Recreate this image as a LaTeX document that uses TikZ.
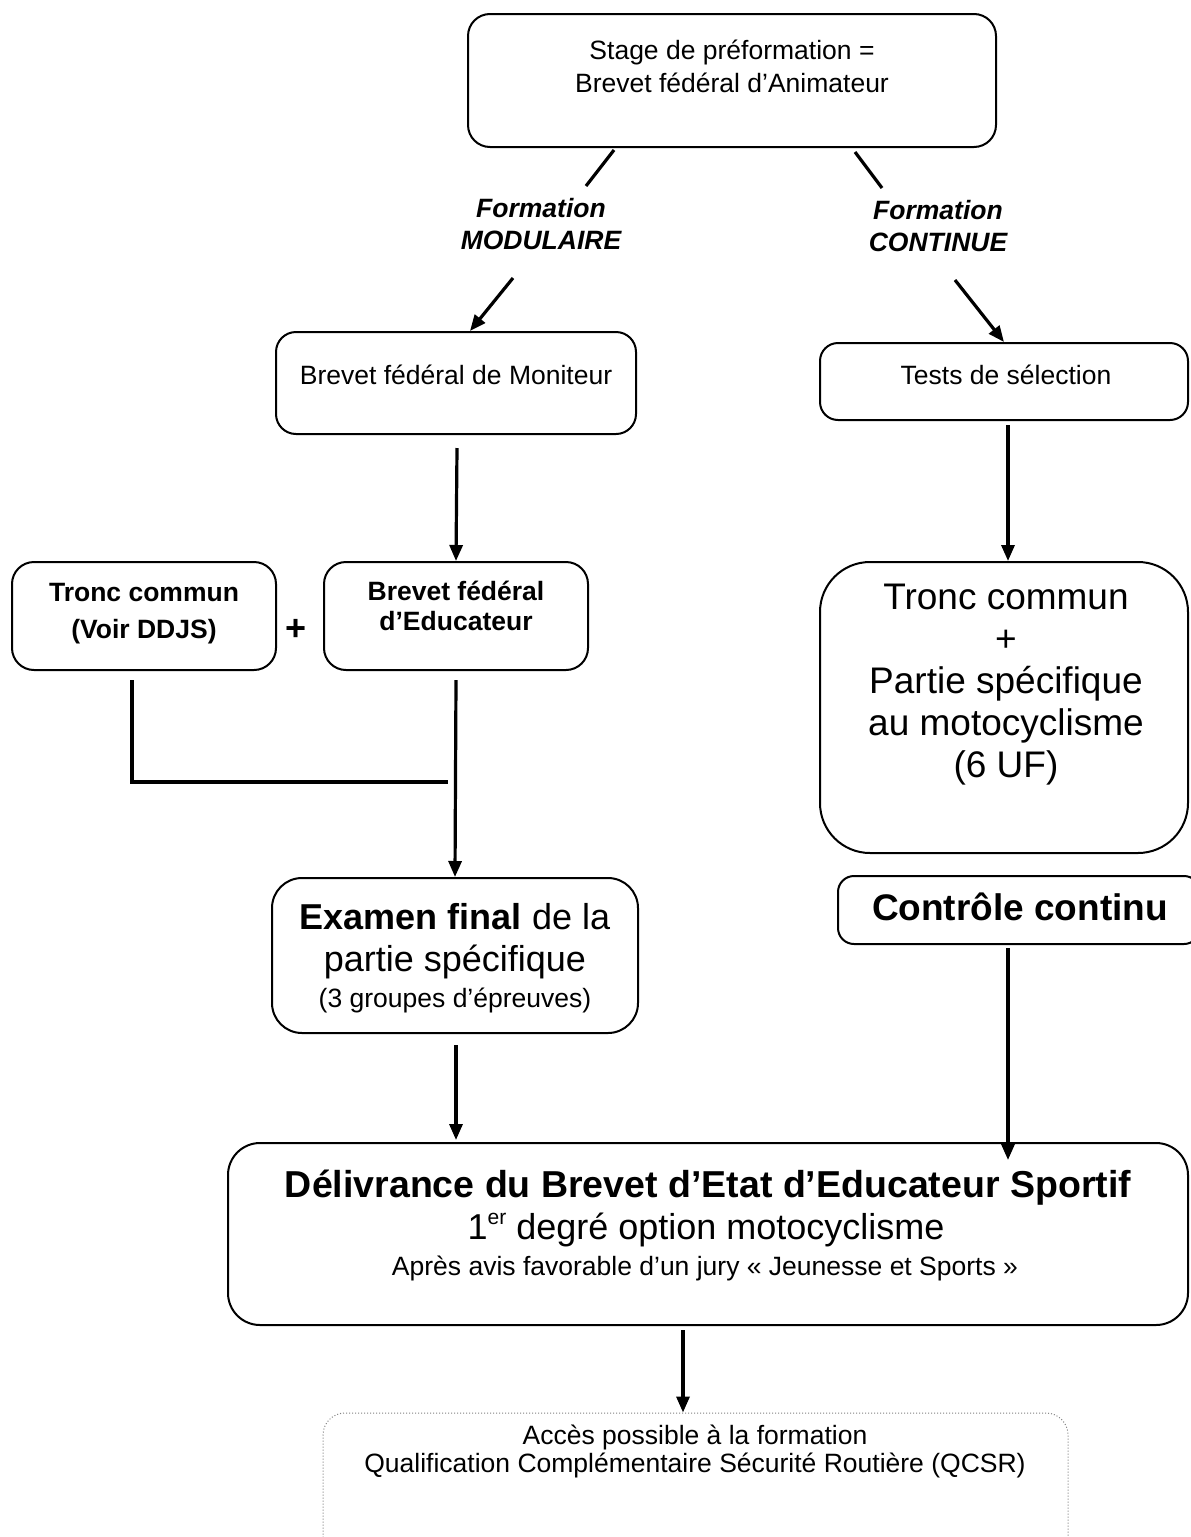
\documentclass[tikz,border=0pt]{standalone}
\usepackage{fontspec}
\setmainfont{Liberation Sans}
\usetikzlibrary{arrows.meta}
\newcommand{\fsz}[2]{\fontsize{#1}{#2}\selectfont}
\tikzset{
  box/.style={draw, line width=2pt, rounded corners=22pt, inner sep=0pt},
  txt/.style={align=center, inner sep=0pt, font=\fsz{26.5}{33}},
  conn/.style={line width=3.2pt},
  arr/.style={conn, -{Triangle[length=16pt,width=13pt]}},
}
\begin{document}
\begin{tikzpicture}[x=1pt,y=-1pt]
\useasboundingbox[fill=white] (0,0) rectangle (1191,1537);

% boxes
\node[box, minimum width=528pt, minimum height=133pt] (top) at (732,80.5) {};
\node[box, rounded corners=20pt, minimum width=360pt, minimum height=102pt] (mon) at (456,383) {};
\node[box, rounded corners=18pt, minimum width=368pt, minimum height=77pt] (tests) at (1004,381.5) {};
\node[box, rounded corners=22pt, minimum width=264pt, minimum height=108pt] (tronc) at (144,616) {};
\node[box, rounded corners=22pt, minimum width=264pt, minimum height=108pt] (edu) at (456,616) {};
\node[box, rounded corners=50pt, minimum width=368pt, minimum height=291pt] (big) at (1004,707.5) {};
\node[box, rounded corners=30pt, minimum width=366pt, minimum height=155pt] (exam) at (455,955.5) {};
\node[box, rounded corners=16pt, minimum width=362pt, minimum height=68pt] (ctrl) at (1019,910) {};
\node[box, rounded corners=32pt, minimum width=960pt, minimum height=182pt] (deliv) at (708,1234) {};
\node[draw=gray, dotted, line width=1pt, rounded corners=22pt, inner sep=0pt, minimum width=745pt, minimum height=150pt] (qcsr) at (695.5,1488) {};

% texts
\node[txt] (toptxt) at (732,66.5) {Stage de préformation =\\Brevet fédéral d’Animateur};
\node[txt, font=\bfseries\itshape\fsz{26.5}{32}] (fmod) at (541,224) {Formation\\MODULAIRE};
\node[txt, font=\bfseries\itshape\fsz{26.5}{32}] (fcont) at (938,226) {Formation\\CONTINUE};
\node[txt] (montxt) at (456,375) {Brevet fédéral de Moniteur};
\node[txt] (teststxt) at (1006,375) {Tests de sélection};
\node[txt, font=\bfseries\fsz{26.5}{37}] (tronctxt) at (144,614) {Tronc commun\\(Voir DDJS)};
\node[txt, font=\bfseries\fsz{36}{36}] (plus) at (296,630) {+};
\node[txt, font=\bfseries\fsz{26.5}{30}] (edutxt) at (456,606) {Brevet fédéral\\d’Educateur};
\node[txt, font=\fsz{37}{42}] (bigtxt) at (1006,685) {Tronc commun\\+\\Partie spécifique\\au motocyclisme\\(6 UF)};
\node[txt, font=\fsz{36}{42}] (examtxt) at (455,941) {\textbf{Examen final} de la\\partie spécifique};
\node[txt] (examsub) at (455,1000) {(3 groupes d’épreuves)};
\node[txt, font=\bfseries\fsz{37}{37}] (ctrltxt) at (1020,907) {Contrôle continu};
\node[txt, font=\bfseries\fsz{37.5}{37}] (d1) at (708,1188) {Délivrance du Brevet d’Etat d’Educateur Sportif};
\node[txt, font=\fsz{36}{36}] (d2) at (706,1230) {1\raisebox{0.42em}{\fsz{21}{21}er} degré option motocyclisme};
\node[txt] (d3) at (705,1268) {Après avis favorable d’un jury « Jeunesse et Sports »};
\node[txt, font=\fsz{26.5}{28}] (qtxt) at (695,1451) {Accès possible à la formation\\Qualification Complémentaire Sécurité Routière (QCSR)};

% free ends
\coordinate (la) at (614,150);
\coordinate (lb) at (586,186);
\coordinate (lc) at (513,278);
\coordinate (ra) at (855,152);
\coordinate (rb) at (882,188);
\coordinate (rc) at (955,280);
\coordinate (mona) at (457,448);
\coordinate (testa) at (1008,425);
\coordinate (ta) at (132,680);
\coordinate (tb) at (132,782);
\coordinate (tc) at (448,782);
\coordinate (ea) at (456,680);
\coordinate (exa) at (456,1045);
\coordinate (exb) at (456,1140);
\coordinate (ca) at (1008,948);
\coordinate (cb) at (1008,1160);
\coordinate (da) at (683,1330);

% connectors
\draw[conn] (la) -- (lb);
\draw[arr] (lc) -- (mon.north west -| 470,0);
\draw[conn] (ra) -- (rb);
\draw[arr] (rc) -- (tests.north -| 1004,0);
\draw[arr] (mona) -- (edu.north);
\draw[arr] (testa) -- (big.north -| 1008,0);
\draw[conn] (ta) -- (tb) -- (tc);
\draw[arr] (ea) -- (exam.north);
\draw[arr] (exa) -- (exb);
\draw[arr] (ca) -- (cb);
\draw[arr] (da) -- (qcsr.north -| 683,0);
\end{tikzpicture}
\end{document}
